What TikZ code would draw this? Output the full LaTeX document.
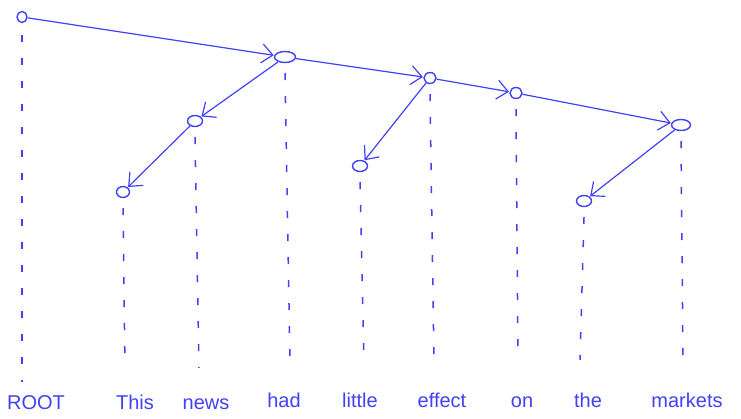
\documentclass[tikz,border=0pt]{standalone}
\usepackage{fontspec}
\setmainfont{Liberation Sans}
\usetikzlibrary{arrows.meta,shapes.geometric}
\definecolor{ink}{RGB}{65,65,245}
\begin{document}
\begin{tikzpicture}[x=1pt,y=-1pt,
  tok/.style={draw=ink,line width=1.4pt,ellipse,inner sep=0pt,minimum width=#1,minimum height=11},
  tok/.default=11,
  dep/.style={draw=ink,line width=1.2pt,-{Straight Barb[length=11pt,width=19pt,line width=1.2pt]},shorten >=0.5pt},
  guide/.style={draw=ink,line width=1.5pt,dash pattern=on 7pt off 16pt},
  word/.style={text=ink,font=\fontsize{20}{22}\selectfont,anchor=base}]
\useasboundingbox (0,0) rectangle (741,419);
% tree nodes
\node[tok=10] (root) at (22,17) {};
\node[tok=21] (had) at (285,57) {};
\node[tok=15] (news) at (195,121) {};
\node[tok=13] (this) at (123,192) {};
\node[tok=12] (effect) at (430,78) {};
\node[tok=15] (little) at (360,166) {};
\node[tok=12] (on) at (516,93) {};
\node[tok=19] (markets) at (681,125) {};
\node[tok=15] (the) at (584,201) {};
% words
\node[word] (wroot) at (36,409) {ROOT};
\node[word] (wthis) at (135,409) {This};
\node[word] (wnews) at (206,409) {news};
\node[word] (whad) at (284,407) {had};
\node[word] (wlittle) at (360,407) {little};
\node[word] (weffect) at (442,407) {effect};
\node[word] (won) at (522,407) {on};
\node[word] (wthe) at (588,407) {the};
\node[word] (wmarkets) at (687,407) {markets};
% dependency arcs
\draw[dep] (root) -- (had);
\draw[dep] (had) -- (news);
\draw[dep] (news) -- (this);
\draw[dep] (had) -- (effect);
\draw[dep] (effect) -- (little);
\draw[dep] (effect) -- (on);
\draw[dep] (on) -- (markets);
\draw[dep] (markets) -- (the);
% projection guides
\coordinate (g1) at (22,382);
\coordinate (g2) at (125,368);
\coordinate (g3) at (199,368);
\coordinate (g4) at (290,362);
\coordinate (g5) at (364,362);
\coordinate (g6) at (434,362);
\coordinate (g7) at (518,360);
\coordinate (g8) at (580,360);
\coordinate (g9) at (683,360);
\draw[guide] ([yshift=-12pt]root.south) -- (g1);
\draw[guide] ([yshift=-10pt]this.south) -- (g2);
\draw[guide] ([yshift=-10pt]news.south) -- (g3);
\draw[guide] ([yshift=-10pt]had.south) -- (g4);
\draw[guide] ([yshift=-10pt]little.south) -- (g5);
\draw[guide] ([yshift=-10pt]effect.south) -- (g6);
\draw[guide] ([yshift=-10pt]on.south) -- (g7);
\draw[guide] ([yshift=-10pt]the.south) -- (g8);
\draw[guide] ([yshift=-10pt]markets.south) -- (g9);
\end{tikzpicture}
\end{document}
